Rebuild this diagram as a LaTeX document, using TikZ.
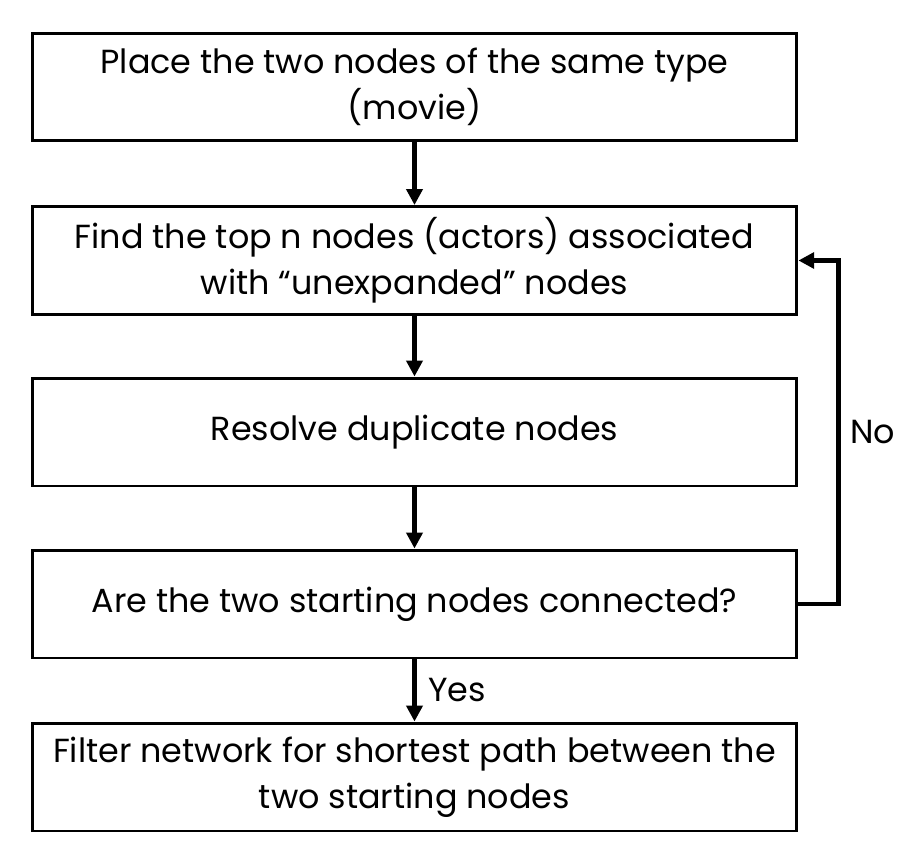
\documentclass[tikz,border=0pt]{standalone}
\usepackage{fontspec}
\setmainfont{Poppins}
\usepackage{tikz}
\usetikzlibrary{arrows.meta}
\usetikzlibrary{calc}

\begin{document}
\begin{tikzpicture}[x=0.02cm, y=-0.02cm,
    stepbox/.style = {draw, line width=1.7pt, minimum width=15.3cm, minimum height=2.16cm, align=center, inner sep=0pt, font=\fontsize{19}{26}\selectfont},
    flow/.style = {line width=2.8pt, -{Triangle[length=9pt, width=9pt]}},
    lbl/.style = {font=\fontsize{19}{26}\selectfont}]
    \useasboundingbox (0,0) rectangle (909,865);

    \node [stepbox] (place) at (414.5, 87) {Place the two nodes of the same type\\(movie)};
    \node [stepbox] (find) at (414.5, 260.5) {Find the top n nodes (actors) associated\\with “unexpanded” nodes};
    \node [stepbox] (resolve) at (414.5, 432) {Resolve duplicate nodes};
    \node [stepbox] (check) at (414.5, 604) {Are the two starting nodes connected?};
    \node [stepbox] (filter) at (414.5, 777) {Filter network for shortest path between the\\two starting nodes};

    \draw [flow] (place) to (find);
    \draw [flow] (find) to (resolve);
    \draw [flow] (resolve) to (check);
    \draw [flow] (check) to node [lbl, right=3pt] {Yes} (filter);
    \draw [flow] (check.east) -- ++(40,0) |- node [lbl, pos=0.25, right=2pt] {No} (find.east);

\end{tikzpicture}
\end{document}
